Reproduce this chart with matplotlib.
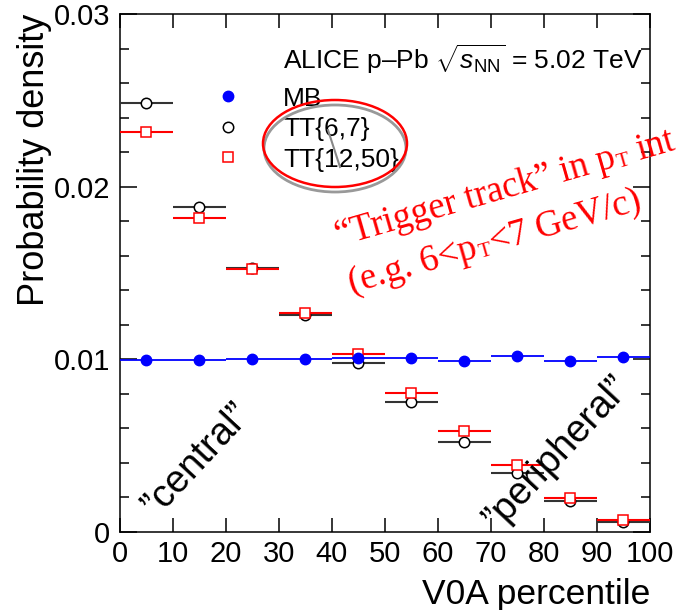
import numpy as np
import matplotlib.pyplot as plt
from matplotlib.lines import Line2D
from matplotlib.patches import Ellipse
from matplotlib.ticker import MultipleLocator

plt.rcParams['font.family'] = 'Liberation Sans'
plt.rcParams['mathtext.fontset'] = 'custom'
plt.rcParams['mathtext.rm'] = 'Liberation Sans'
plt.rcParams['mathtext.it'] = 'Liberation Sans:italic'

# V0A percentile bins
bin_centers = [5, 15, 25, 35, 45, 55, 65, 75, 85, 95]
bin_halfwidth = 5

# probability densities
mb = [0.00995, 0.00995, 0.01000, 0.01001, 0.01008, 0.01007, 0.00990, 0.01017, 0.00990, 0.01015]
tt_6_7 = [0.02484, 0.01884, 0.01529, 0.01257, 0.00978, 0.00755, 0.00523, 0.00344, 0.00178, 0.00060]
tt_12_50 = [0.02318, 0.01816, 0.01521, 0.01268, 0.01029, 0.00807, 0.00585, 0.00388, 0.00199, 0.00069]

W, H = 677, 610
fig = plt.figure(figsize=(W / 100, H / 100), dpi=100)
ax = fig.add_axes([119.5 / W, 1 - 532 / H, (650 - 119.5) / W, (532 - 14) / H])

ax.errorbar(bin_centers, tt_6_7, xerr=bin_halfwidth, fmt='o', ms=7.5, mfc='white', mec='black',
            mew=1.1, ecolor='#333333', elinewidth=1.5, capsize=0, zorder=3)
ax.errorbar(bin_centers, tt_12_50, xerr=bin_halfwidth, fmt='s', ms=7, mfc='white', mec='red',
            mew=1.1, ecolor='red', elinewidth=1.5, capsize=0, zorder=4)
ax.errorbar(bin_centers, mb, xerr=bin_halfwidth, fmt='o', ms=7.5, color='blue',
            elinewidth=1.3, capsize=0, zorder=5)

ax.set_xlim(0, 100)
ax.set_ylim(0, 0.03)
ax.set_xticks(np.arange(0, 101, 10))
ax.set_yticks([0, 0.01, 0.02, 0.03])
ax.set_yticklabels(['0', '0.01', '0.02', '0.03'])
ax.yaxis.set_minor_locator(MultipleLocator(0.002))
ax.tick_params(which='both', direction='in', top=True, right=True, labelsize=21, width=1.1)
ax.tick_params(axis='x', which='major', length=10, pad=5.5)
ax.tick_params(axis='y', which='major', length=12, pad=6.5)
ax.tick_params(axis='y', which='minor', length=6.5)
for s in ax.spines.values():
    s.set_linewidth(1.1)

ax.set_xlabel('V0A percentile', fontsize=25.5, loc='right')
ax.set_ylabel('Probability density', fontsize=26, loc='top')
ax.xaxis.set_label_coords(1.0, -0.089)
ax.yaxis.set_label_coords(-0.127, 1.0)

# legend
fig.text(283 / W, 1 - 69 / H, r'ALICE p–Pb $\sqrt{s_{\rm NN}}$ = 5.02 TeV', fontsize=19, va='baseline')
handles = [Line2D([], [], ls='none', marker='o', ms=7.5, color='blue'),
           Line2D([], [], ls='none', marker='o', ms=7.5, mfc='white', mec='black', mew=1.1),
           Line2D([], [], ls='none', marker='s', ms=7, mfc='white', mec='red', mew=1.1)]
ax.legend(handles, ['MB', 'TT{6,7}', 'TT{12,50}'], loc='upper left',
          bbox_to_anchor=(215 / W, 1 - 86.5 / H), bbox_transform=fig.transFigure,
          frameon=False, fontsize=19, handlelength=1.0, handletextpad=1.58,
          labelspacing=0.25, borderpad=0, borderaxespad=0)

# highlight ellipse
fig.add_artist(Ellipse((335 / W, 1 - 148.5 / H), 142 / W, 87 / H, transform=fig.transFigure,
                       fill=False, ec='#999999', lw=2))
fig.add_artist(Ellipse((335 / W, 1 - 143.5 / H), 144 / W, 87 / H, transform=fig.transFigure,
                       fill=False, ec='red', lw=1.8))
fig.add_artist(Line2D([328 / W, 340 / W], [1 - 130 / H, 1 - 167 / H], transform=fig.transFigure,
                      color='#888888', lw=1.5))


def rotated_runs(x, y, pieces, angle, **kw):
    """Write text pieces (txt, size, drop, gap) one after another along a rotated baseline.
    x, y are pixels from the top-left corner."""
    renderer = fig.canvas.get_renderer()
    th = np.deg2rad(angle)
    u = np.array([np.cos(th), np.sin(th)])
    down = np.array([np.sin(th), -np.cos(th)])
    pos = np.array([x, H - y], dtype=float)
    for txt, size, drop, gap in pieces:
        p = pos + drop * down
        fig.text(p[0] / W, p[1] / H, txt, fontsize=size, rotation=angle,
                 rotation_mode='anchor', ha='left', va='baseline', **kw)
        t1 = fig.text(0, 0, txt + '|', fontsize=size, **kw)
        t2 = fig.text(0, 0, '|', fontsize=size, **kw)
        w = t1.get_window_extent(renderer).width - t2.get_window_extent(renderer).width
        t1.remove()
        t2.remove()
        pos = pos + (w + gap) * u


red = dict(color='red', family='Liberation Serif')
big, small = 26.5, 15
rotated_runs(339, 246, [('“Trigger track” in p', big, 0, 1),
                        ('T', small, 2, 9),
                        ('int', big, 0, 0)], 16, **red)
rotated_runs(352, 293, [('(e.g. 6<p', big, 0, 1),
                        ('T', small, 2, 1),
                        ('<7 GeV/c)', big, 0, 0)], 16, **red)

fig.text(157 / W, 1 - 518 / H, '”central”', fontsize=27.5, rotation=47,
         rotation_mode='anchor', ha='left', va='baseline')
fig.text(498 / W, 1 - 532 / H, '”peripheral”', fontsize=27.5, rotation=47,
         rotation_mode='anchor', ha='left', va='baseline')

fig.savefig('out.png', dpi=100)
